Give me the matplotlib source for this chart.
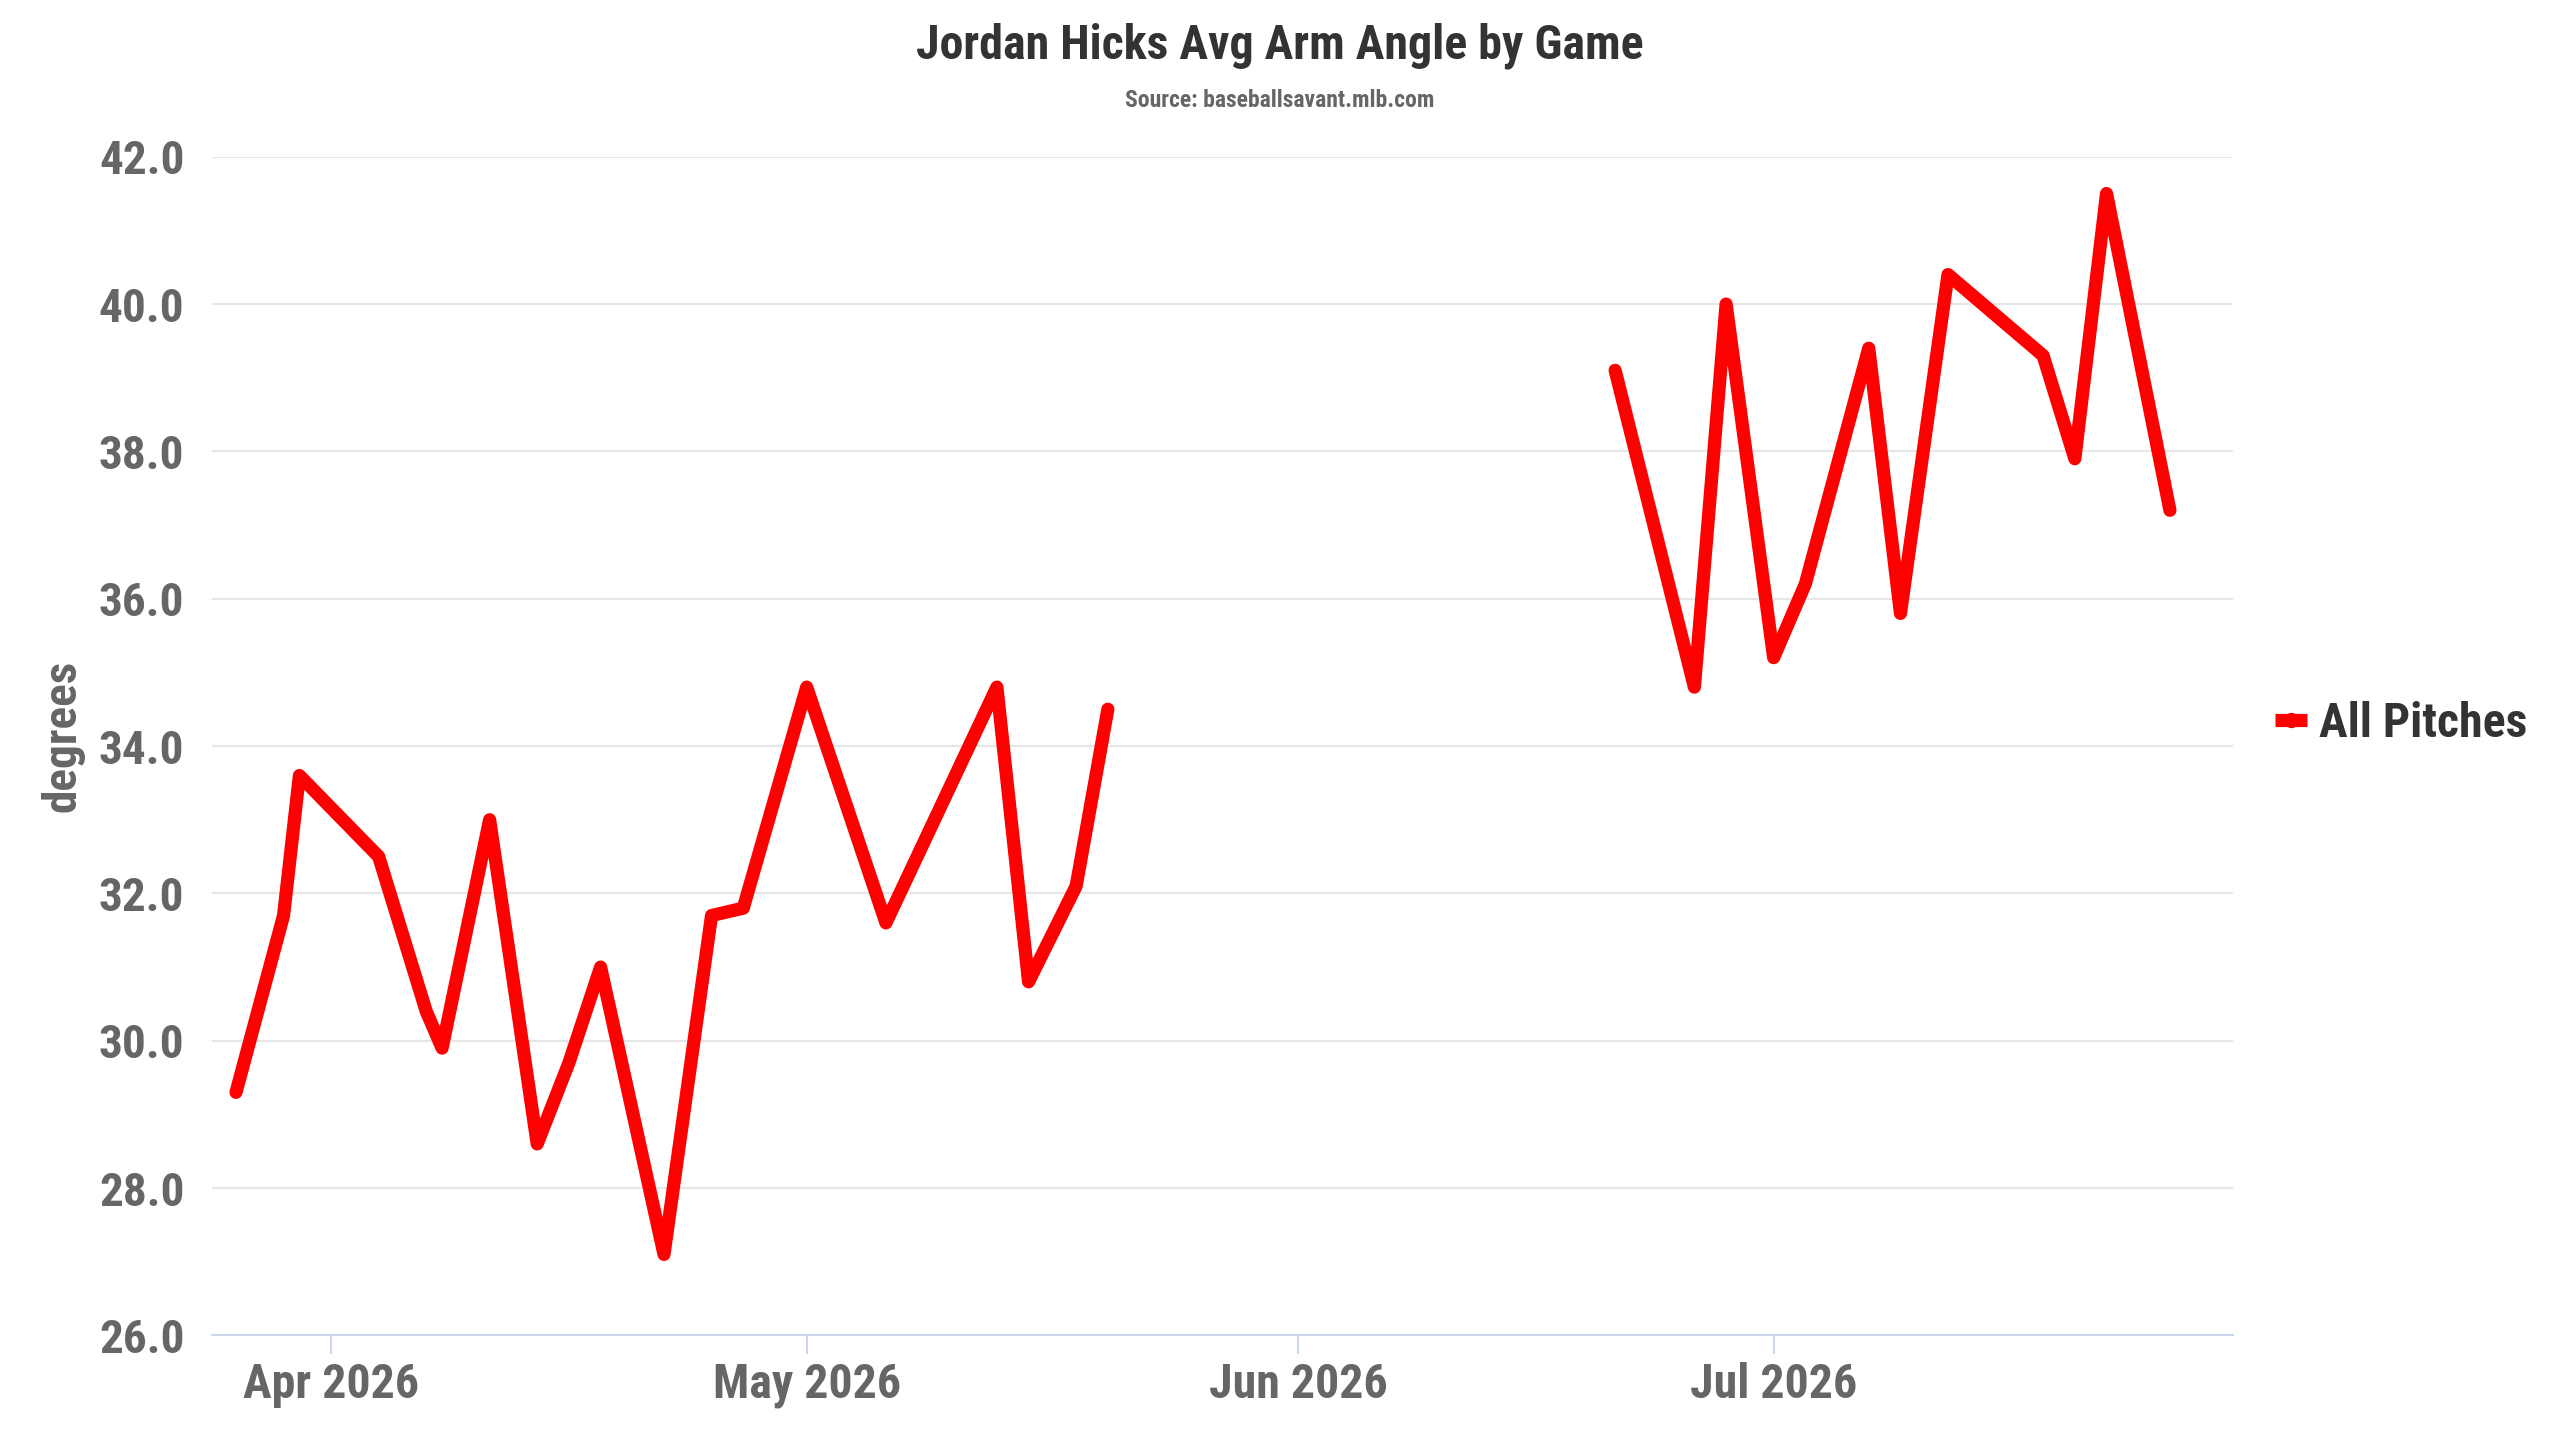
import matplotlib
matplotlib.use("Agg")
import matplotlib.pyplot as plt
import matplotlib.dates as mdates
from matplotlib.lines import Line2D
import numpy as np
import pandas as pd

plt.rcParams['font.family'] = ['Roboto Condensed', 'Liberation Sans Narrow', 'Roboto', 'DejaVu Sans']

# game dates and average arm angle (degrees)
game_dates = ['2026-03-26', '2026-03-29', '2026-03-30', '2026-04-04', '2026-04-07',
              '2026-04-08', '2026-04-11', '2026-04-14', '2026-04-16', '2026-04-18',
              '2026-04-22', '2026-04-25', '2026-04-27', '2026-05-01', '2026-05-06',
              '2026-05-13', '2026-05-15', '2026-05-18', '2026-05-20',
              '2026-06-21', '2026-06-26', '2026-06-28', '2026-07-01', '2026-07-03',
              '2026-07-07', '2026-07-09', '2026-07-12', '2026-07-18', '2026-07-20',
              '2026-07-22', '2026-07-26']
arm_angle = [29.3, 31.7, 33.6, 32.5, 30.4, 29.9, 33.0, 28.6, 29.7, 31.0,
             27.1, 31.7, 31.8, 34.8, 31.6, 34.8, 30.8, 32.1, 34.5,
             39.1, 34.8, 40.0, 35.2, 36.2, 39.4, 35.8, 40.4, 39.3, 37.9,
             41.5, 37.2]

series_name = 'All Pitches'
title = 'Jordan Hicks Avg Arm Angle by Game'
subtitle = 'Source: baseballsavant.mlb.com'

df = pd.DataFrame({'date': pd.to_datetime(game_dates), 'angle': arm_angle})
# break the line where there is a long gap between games
df['seg'] = (df['date'].diff().dt.days > 14).cumsum()

fig = plt.figure(figsize=(25.6, 14.4), dpi=100)
ax = fig.add_axes([0.0829, 0.0726, 0.7895, 0.8186])

for seg, part in df.groupby('seg'):
    ax.plot(part['date'], part['angle'], color='#ff0000', linewidth=9.5,
            solid_joinstyle='round', solid_capstyle='round')

ax.set_ylim(26, 42)
ax.set_yticks(np.arange(26, 42.1, 2))
ax.yaxis.set_major_formatter(matplotlib.ticker.FormatStrFormatter('%.1f'))
ax.set_xlim(pd.Timestamp('2026-03-24 12:00'), pd.Timestamp('2026-07-30'))
ax.xaxis.set_major_locator(mdates.MonthLocator())
ax.xaxis.set_major_formatter(mdates.DateFormatter('%b %Y'))

ax.grid(axis='y', color='#e6e6e6', linewidth=1.5)
ax.set_axisbelow(True)
for s in ['top', 'right', 'left']:
    ax.spines[s].set_visible(False)
ax.spines['bottom'].set_color('#ccd6eb')
ax.spines['bottom'].set_linewidth(1.5)

ax.tick_params(axis='y', length=0, pad=20, labelsize=34, labelcolor='#666666')
ax.tick_params(axis='x', length=14, width=1.5, color='#ccd6eb', pad=5,
               labelsize=34.5, labelcolor='#666666')
for lab in ax.get_xticklabels() + ax.get_yticklabels():
    lab.set_fontweight('bold')

fig.text(0.0244, 0.4887, 'degrees', rotation=90, ha='center', va='center',
         fontsize=34, fontweight='bold', color='#666666')

fig.text(0.5, 0.968, title, ha='center', va='center', fontsize=34.5,
         fontweight='bold', color='#333333')
fig.text(0.5, 0.930, subtitle, ha='center', va='center', fontsize=17,
         fontweight='bold', color='#666666')

# legend symbol: short flat line with a small marker, like the original
handle = Line2D([], [], color='#ff0000', linewidth=9.5, solid_capstyle='butt',
                marker='o', markersize=10)
leg = ax.legend([handle], [series_name], loc='center left',
                bbox_to_anchor=(0.9995, 0.519), frameon=False,
                fontsize=34.5, handlelength=0.65, handletextpad=0.25)
for t in leg.get_texts():
    t.set_fontweight('bold')
    t.set_color('#333333')

fig.savefig('out.png', dpi=100)
